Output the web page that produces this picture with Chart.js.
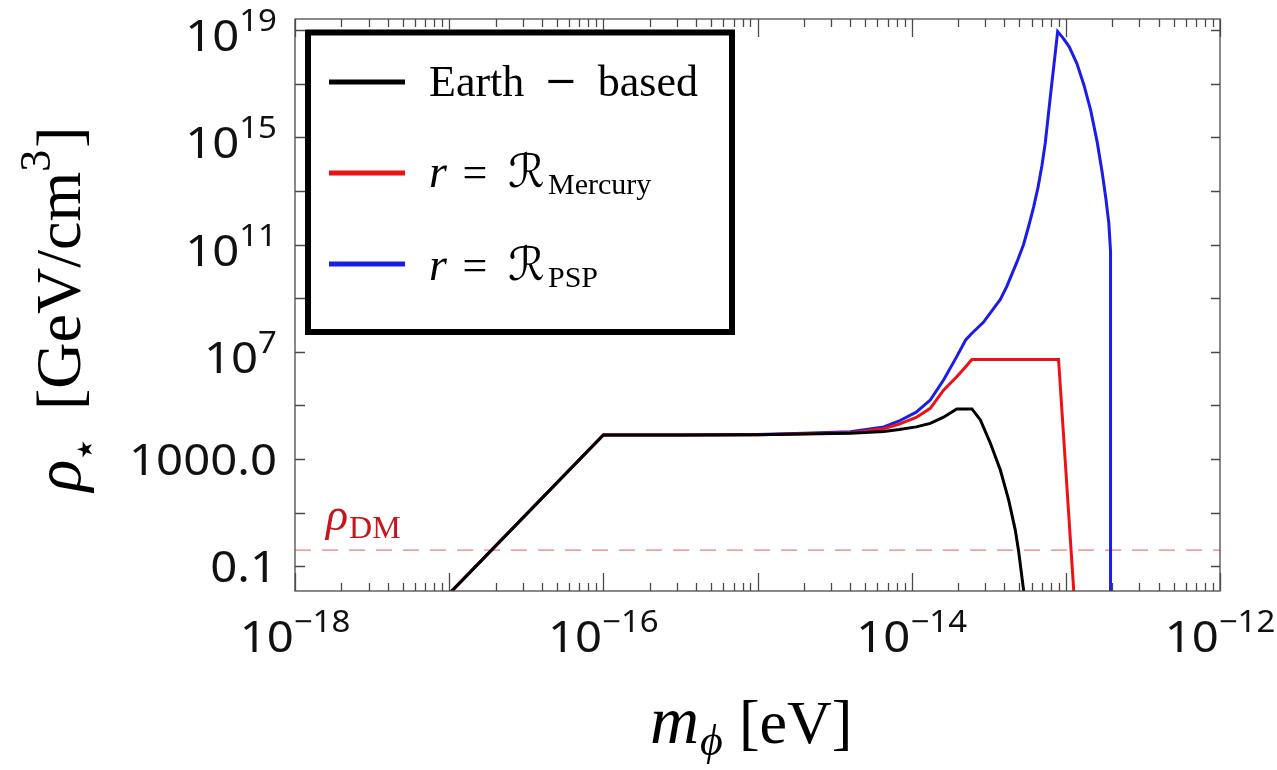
<!DOCTYPE html>
<html>
<head>
<meta charset="utf-8">
<title>rho star vs m phi</title>
<script src="https://cdn.jsdelivr.net/npm/chart.js@4.4.1/dist/chart.umd.min.js"></script>
<style>
  html, body { margin: 0; padding: 0; background: #fff; }
  canvas { display: block; }
</style>
</head>
<body>
<canvas id="rhoChart" width="1277" height="770"></canvas>
<script>
// m_phi [eV] and rho_star [GeV/cm^3] for each bound
const earthMass = [1e-17, 1e-16, 3.16e-16, 1e-15, 2.0e-15, 4.0e-15, 6.6e-15, 8.3e-15, 1.07e-14, 1.32e-14,
    1.61e-14, 1.96e-14, 2.46e-14, 2.79e-14, 3.24e-14, 3.76e-14, 4.26e-14, 4.70e-14, 4.93e-14, 5.32e-14, 5.43e-14];
const earthRho = [9.5e-3, 7.9e3, 7.9e3, 8.1e3, 8.5e3, 9.1e3, 1.07e4, 1.26e4, 1.58e4, 2.14e4,
    3.63e4, 7.4e4, 7.4e4, 2.88e4, 3.9e3, 390, 29.5, 2.24, 0.40, 0.0129, 0.004];

const mercuryMass = [1e-17, 1e-16, 3.16e-16, 1e-15, 2.0e-15, 4.0e-15, 6.6e-15, 8.3e-15, 1.07e-14, 1.32e-14,
    1.61e-14, 1.96e-14, 2.19e-14, 2.46e-14, 8.97e-14, 1.14e-13];
const mercuryRho = [9.5e-3, 7.9e3, 7.9e3, 8.1e3, 8.7e3, 9.5e3, 1.35e4, 2.0e4, 3.55e4, 7.8e4,
    3.7e5, 1.17e6, 2.4e6, 5.2e6, 5.2e6, 0.004];

const pspMass = [1e-17, 1e-16, 3.16e-16, 1e-15, 2.0e-15, 4.0e-15, 6.6e-15, 8.3e-15, 1.07e-14, 1.32e-14,
    1.61e-14, 1.96e-14, 2.24e-14, 2.46e-14, 2.92e-14, 3.24e-14, 3.76e-14, 4.15e-14, 4.82e-14, 5.32e-14,
    5.75e-14, 6.18e-14, 6.61e-14, 7.0e-14, 7.36e-14, 7.93e-14, 8.41e-14, 8.85e-14, 9.55e-14, 1.05e-13,
    1.18e-13, 1.31e-13, 1.45e-13, 1.60e-13, 1.72e-13, 1.82e-13, 1.90e-13, 1.95e-13, 1.95e-13];
const pspRho = [9.5e-3, 7.9e3, 7.9e3, 8.3e3, 9.1e3, 1.05e4, 1.58e4, 2.63e4, 5.6e4, 1.58e5,
    8.9e5, 6.6e6, 2.75e7, 4.9e7, 1.26e8, 2.8e8, 8.9e8, 2.8e9, 2.24e10, 1.0e11,
    5.0e11, 2.5e12, 1.41e13, 8.9e13, 6.3e14, 3.2e16, 6.3e17, 8.7e18, 5.2e18, 2.4e18,
    5.6e17, 8.9e16, 1.0e16, 6.3e14, 5.0e13, 5.0e12, 6.3e11, 5.6e10, 1e-3];

const rhoDM = 0.4;

// axis ranges and ticks (decade exponents)
const X_MIN = 1e-18, X_MAX = 1e-12;
const Y_MIN = 0.012, Y_MAX = 2.57e19;
const xDecades = [-18, -17, -16, -15, -14, -13, -12];
const xLabelExps = [-18, -16, -14, -12];
const yTickExps = [-1, 1, 3, 5, 7, 9, 11, 13, 15, 17, 19];
const yLabelExps = [-1, 3, 7, 11, 15, 19];

const COLORS = { earth: "#000000", mercury: "#ee1111", psp: "#1c1ce8", dm: "rgba(226,80,80,0.75)" };

const SERIF = "'Liberation Serif', 'Times New Roman', serif";
const SANS = "'Noto Sans', 'Open Sans', sans-serif";

function toPoints(xs, ys) {
    return xs.map((x, i) => ({ x, y: ys[i] }));
}

// draw a row of text pieces: [text, font, dy, extraGap]
function drawRuns(ctx, x, y, runs, align) {
    let w = 0;
    runs.forEach((r) => { ctx.font = r[1]; w += ctx.measureText(r[0]).width + (r[3] || 0); });
    let cx = align === "right" ? x - w : align === "center" ? x - w / 2 : x;
    runs.forEach((r) => {
        ctx.font = r[1];
        ctx.fillText(r[0], cx, y + (r[2] || 0));
        cx += ctx.measureText(r[0]).width + (r[3] || 0);
    });
    return w;
}

function tickLabelRuns(exp) {
    const big = "43px " + SANS, small = "30px " + SANS;
    if (exp === -1) return [["0.1", big, 0]];
    if (exp === 3) return [["1000.0", big, 0]];
    const s = exp < 0 ? "\u2212" + (-exp) : String(exp);
    return [["10", big, 0], [s, small, -20]];
}

function stretchedRuns(ctx, x, y, runs, align) {
    ctx.save();
    ctx.translate(x, y);
    ctx.scale(1.1, 1);
    drawRuns(ctx, 0, 0, runs, align);
    ctx.restore();
}

const framePlugin = {
    id: "frame",
    afterDatasetsDraw(chart) {
        const { ctx, chartArea: a, scales: { x, y } } = chart;
        ctx.save();
        ctx.strokeStyle = "#4a4a4a";
        ctx.lineWidth = 1.3;
        ctx.strokeRect(a.left, a.top, a.right - a.left, a.bottom - a.top);

        ctx.beginPath();
        xDecades.forEach((e) => {
            for (let k = 1; k <= 9; k++) {
                const v = k * Math.pow(10, e);
                if (v > X_MAX * 1.0001) break;
                const px = Math.round(x.getPixelForValue(v)) + 0.5;
                const len = k === 1 ? 18 : 8;
                ctx.moveTo(px, a.bottom); ctx.lineTo(px, a.bottom - len);
                ctx.moveTo(px, a.top); ctx.lineTo(px, a.top + len);
            }
        });
        yTickExps.forEach((e) => {
            const py = Math.round(y.getPixelForValue(Math.pow(10, e))) + 0.5;
            ctx.moveTo(a.left, py); ctx.lineTo(a.left + 10, py);
            ctx.moveTo(a.right, py); ctx.lineTo(a.right - 9, py);
        });
        ctx.stroke();

        // tick labels
        ctx.fillStyle = "#111";
        ctx.textBaseline = "alphabetic";
        xLabelExps.forEach((e) => {
            stretchedRuns(ctx, x.getPixelForValue(Math.pow(10, e)), 652, tickLabelRuns(e), "center");
        });
        yLabelExps.forEach((e) => {
            const py = y.getPixelForValue(Math.pow(10, e));
            const off = (e === -1 || e === 3) ? 16 : 21;
            stretchedRuns(ctx, a.left - 18, py + off, tickLabelRuns(e), "right");
        });

        // rho_DM label
        ctx.fillStyle = "#c4161c";
        drawRuns(ctx, 326, 530, [["\u03c1", "italic 46px " + SERIF, 0, 1], ["DM", "32px " + SERIF, 8]], "left");

        // axis titles
        ctx.fillStyle = "#000";
        drawRuns(ctx, 650, 743, [["m", "italic 68px " + SERIF, 0, 1], ["\u03d5", "italic 44px " + SERIF, 12, 16],
            ["[eV]", "62px " + SERIF, 0]], "left");

        ctx.save();
        ctx.translate(80, 309);
        ctx.rotate(-Math.PI / 2);
        drawRuns(ctx, 0, 0, [["\u03c1", "italic 66px " + SERIF, 0, 1], ["\u2605", "21px 'DejaVu Sans', sans-serif", 12, 30],
            ["[GeV/cm", "64px " + SERIF, 0], ["3", "44px " + SERIF, -30, 2], ["]", "64px " + SERIF, 0]], "center");
        ctx.restore();

        ctx.restore();
    },
    afterDraw(chart) {
        const ctx = chart.ctx;
        ctx.save();
        // legend box
        ctx.fillStyle = "#fff";
        ctx.fillRect(305, 29.5, 430, 305.5);
        ctx.strokeStyle = "#000";
        ctx.lineWidth = 6;
        ctx.strokeRect(308, 32.5, 424, 299.5);

        const rows = [
            { color: COLORS.earth, y: 82 },
            { color: COLORS.mercury, y: 173 },
            { color: COLORS.psp, y: 264 },
        ];
        ctx.lineWidth = 5;
        rows.forEach((r) => {
            ctx.strokeStyle = r.color;
            ctx.beginPath();
            ctx.moveTo(329, r.y);
            ctx.lineTo(405, r.y);
            ctx.stroke();
        });

        ctx.fillStyle = "#000";
        const font = "44px " + SERIF;
        ctx.font = font;
        ctx.textAlign = "left";
        ctx.fillText("Earth", 429, 96);
        const earthEnd = 429 + ctx.measureText("Earth").width;
        ctx.textAlign = "right";
        ctx.fillText("based", 698, 96);
        const basedStart = 698 - ctx.measureText("based").width;
        ctx.textAlign = "center";
        ctx.font = "40px 'DejaVu Serif', serif";
        ctx.fillText("\u2212", (earthEnd + basedStart) / 2, 94);
        ctx.textAlign = "left";

        const calR = "46px 'DejaVu Sans', sans-serif";
        [["Mercury", 187], ["PSP", 280]].forEach(([sub, base]) => {
            ctx.font = "italic 46px " + SERIF;
            ctx.fillText("r", 429, base);
            ctx.font = font;
            ctx.textAlign = "center";
            ctx.fillText("=", 475, base);
            ctx.textAlign = "left";
            ctx.font = calR;
            ctx.fillText("\u211b", 508, base);
            ctx.font = "30px " + SERIF;
            ctx.fillText(sub, 548, base + 7);
        });
        ctx.restore();
    },
};

const lineStyle = { showLine: true, pointRadius: 0, borderWidth: 3, tension: 0, fill: false };

new Chart(document.getElementById("rhoChart"), {
    type: "scatter",
    data: {
        datasets: [
            { label: "Earth - based", data: toPoints(earthMass, earthRho), borderColor: COLORS.earth, ...lineStyle },
            { label: "r = R_Mercury", data: toPoints(mercuryMass, mercuryRho), borderColor: COLORS.mercury, ...lineStyle },
            { label: "r = R_PSP", data: toPoints(pspMass, pspRho), borderColor: COLORS.psp, ...lineStyle },
            {
                label: "rho_DM",
                data: [{ x: X_MIN, y: rhoDM }, { x: X_MAX, y: rhoDM }],
                borderColor: COLORS.dm, borderDash: [16, 11],
                showLine: true, pointRadius: 0, borderWidth: 1.2,
            },
        ],
    },
    options: {
        responsive: false,
        devicePixelRatio: 1,
        animation: false,
        layout: { padding: { left: 295, top: 19, right: 57, bottom: 179 } },
        scales: {
            x: { type: "logarithmic", min: X_MIN, max: X_MAX, display: false },
            y: { type: "logarithmic", min: Y_MIN, max: Y_MAX, display: false },
        },
        plugins: { legend: { display: false }, tooltip: { enabled: false } },
    },
    plugins: [framePlugin],
});
</script>
</body>
</html>
